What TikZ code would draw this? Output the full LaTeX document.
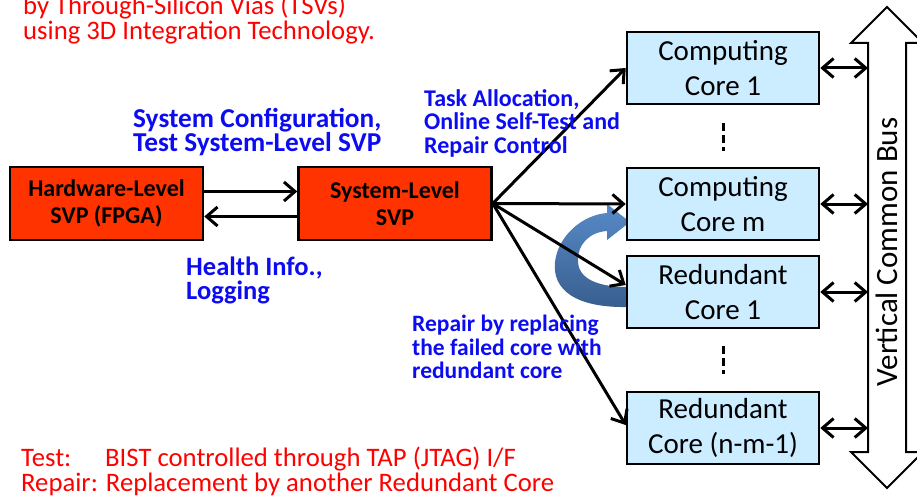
\documentclass[tikz,border=0pt]{standalone}
\usepackage{fontspec}
\setmainfont{Carlito}
\usepackage{tikz}
\usetikzlibrary{arrows.meta, positioning, calc}
\definecolor{svpred}{RGB}{255,51,0}
\definecolor{corefill}{RGB}{204,236,255}
\definecolor{notered}{RGB}{255,0,0}
\definecolor{noteblue}{RGB}{12,12,240}
\definecolor{swaplight}{RGB}{88,138,200}
\definecolor{swapdark}{RGB}{56,94,142}

\begin{document}
\begin{tikzpicture}[x=1pt, y=-1pt,
        svp/.style={rectangle, draw, line width=2.5pt, fill=svpred, minimum width=193pt, minimum height=73pt, align=center, inner sep=0pt, font=\fontsize{24}{27}\selectfont\bfseries},
        core/.style={rectangle, draw, line width=2.5pt, fill=corefill, minimum width=192pt, minimum height=72pt, align=center, inner sep=0pt, font=\fontsize{29}{35.5}\selectfont},
        link/.style={line width=3pt, -{Straight Barb[length=11pt, width=19pt]}},
        buslink/.style={line width=3pt, {Straight Barb[length=11pt, width=19pt]}-{Straight Barb[length=11pt, width=19pt]}},
        bluenote/.style={text=noteblue, align=left, anchor=west, inner sep=0pt},
        rednote/.style={text=notered, align=left, anchor=west, inner sep=0pt, font=\fontsize{26.7}{25}\selectfont},
        gap/.style={line width=3pt, dash pattern=on 8pt off 4pt}
    ]
        \useasboundingbox (0,0) rectangle (917,497);
        \clip (0,0) rectangle (917,497);

        % curved swap arrow (redundant core -> computing core)
        \shade[top color=swaplight, bottom color=swapdark]
            (628,307) .. controls (576,308) and (552,290) .. (555,262)
            .. controls (558,236) and (582,215) .. (607,213) -- (607,204) -- (630,222) -- (607,240) -- (607,231)
            .. controls (590,232) and (577,244) .. (578,262)
            .. controls (579,279) and (598,287) .. (628,287) -- cycle;

        % SVP blocks
        \node[svp] (hw) at (106.5,203.5) {Hardware-Level\\SVP (FPGA)};
        \node[svp] (sys) at (395,203.5) {System-Level\\SVP};

        % cores
        \node[core] (core1) at (723,68) {Computing\\Core 1};
        \node[core] (corem) at (723,204) {Computing\\Core m};
        \node[core] (red1) at (723,292) {Redundant\\Core 1};
        \node[core] (redn) at (723,428) {Redundant\\Core (n-m-1)};
        \draw[gap] ($(core1.south)+(0,18)$) -- ($(corem.north)+(0,-16)$);
        \draw[gap] ($(red1.south)+(0,17)$) -- ($(redn.north)+(0,-17)$);

        % vertical common bus
        \draw[line width=2pt, fill=white] (887,7) -- (923,43) -- (906,43) -- (906,452) -- (923,452)
            -- (887,488) -- (851,452) -- (868,452) -- (868,43) -- (851,43) -- cycle;
        \coordinate (busl) at (868,0);
        \node[rotate=90, font=\fontsize{31}{36}\selectfont] (bus) at (887,252) {Vertical Common Bus};

        \draw[link] ([yshift=12pt]hw.east) -- ([yshift=12pt]sys.west);
        \draw[link] ([yshift=-13pt]sys.west) -- ([yshift=-13pt]hw.east);
        \draw[link] (sys.east) -- (core1.west);
        \draw[link] (sys.east) -- (corem.west);
        \draw[link] (sys.east) -- ([yshift=7pt]red1.west);
        \draw[link] (sys.east) -- ([yshift=3pt]redn.west);
        \foreach \c in {core1, corem, red1, redn}
            \draw[buslink] (\c.east) -- (\c.east -| busl);

        % notes
        \node[bluenote, font=\fontsize{27.3}{24.5}\selectfont\bfseries] (confnote) at (133,132) {System Configuration,\\Test System-Level SVP};
        \node[bluenote, font=\fontsize{26.5}{24}\selectfont\bfseries] (healthnote) at (186,280) {Health Info.,\\Logging};
        \node[bluenote, font=\fontsize{24}{23.5}\selectfont\bfseries] (tasknote) at (424,123) {Task Allocation,\\Online Self-Test and\\Repair Control};
        \node[bluenote, font=\fontsize{23.5}{23.5}\selectfont\bfseries] (repairnote) at (412,347) {Repair by replacing\\the failed core with\\redundant core};
        \node[rednote, anchor=north west] (tsvnote) at (23,-5) {by Through-Silicon Vias (TSVs)\\using 3D Integration Technology.};
        \node[rednote] (testnote) at (21,471) {\makebox[84pt][l]{Test:}BIST controlled through TAP (JTAG) I/F\\Repair: Replacement by another Redundant Core};
    \end{tikzpicture}
\end{document}
